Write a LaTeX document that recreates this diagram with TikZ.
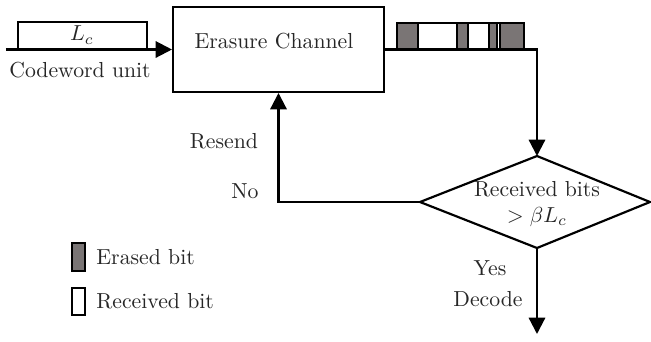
\documentclass[tikz,border=0pt]{standalone}
\usepackage{amsmath,amssymb}
\usepackage{tikz}
\usetikzlibrary{arrows.meta,positioning,calc}

\definecolor{erasegray}{RGB}{122,117,117}

\tikzset{
    line/.style={line width=1pt},
    arr/.style={line width=1pt,-{Triangle[length=7.5pt,width=7.5pt]}},
    erased/.style={line width=1pt,fill=erasegray},
    recvd/.style={line width=1pt,fill=white},
    lbl/.style={text=black!85,inner sep=0pt}
}

\begin{document}
\begin{tikzpicture}[x=0.46pt,y=-0.46pt]
    \useasboundingbox (0,0) rectangle (651,341);

    % Channel block
    \node[draw,line width=1pt,minimum width=97pt,minimum height=39pt,inner sep=0pt] (chan) at (278.5,49.5) {};
    \node[lbl] (chantxt) at (274,41) {Erasure Channel};

    % Codeword unit on the input line
    \coordinate (in) at (6,49.5);
    \draw[line] (18,22) rectangle (147,49.5);
    \node[lbl] (lc) at (82,35) {$L_c$};
    \node[lbl] (cw) at (80,70) {Codeword unit};
    \draw[arr] (in) -- (chan.west);

    % Decision diamond
    \draw[line] (420,202) coordinate (dl) -- (537,156) coordinate (dt)
        -- (650,202) coordinate (dr) -- (537,248) coordinate (db) -- cycle;
    \node[lbl,align=center] (check) at (537,204) {Received bits\\$>\beta L_c$};

    % Output of the channel goes to the check
    \draw[arr] (chan.east) -| (dt);

    % Bits at the channel output
    \draw[erased] (397,23) rectangle (418,49.5);
    \draw[recvd]  (418,23) rectangle (457,49.5);
    \draw[erased] (457,23) rectangle (468,49.5);
    \draw[recvd]  (468,23) rectangle (489,49.5);
    \draw[erased] (489,23) rectangle (497,49.5);
    \draw[recvd]  (497,23) rectangle (500,49.5);
    \draw[erased] (500,23) rectangle (524,49.5);

    % No -> resend
    \draw[arr] (dl) -| (chan.south);
    \node[lbl] (resend) at (224,141) {Resend};
    \node[lbl] (no) at (245,191) {No};

    % Yes -> decode
    \coordinate (out) at (537,334);
    \draw[arr] (db) -- (out);
    \node[lbl] (yes) at (490,268) {Yes};
    \node[lbl] (dec) at (488,299) {Decode};

    % Legend
    \draw[erased] (72,243) rectangle (85,271);
    \node[lbl,anchor=west] (erlg) at (96,257) {Erased bit};
    \draw[recvd] (72,288) rectangle (85,315);
    \node[lbl,anchor=west] (rclg) at (96,301) {Received bit};
\end{tikzpicture}
\end{document}
